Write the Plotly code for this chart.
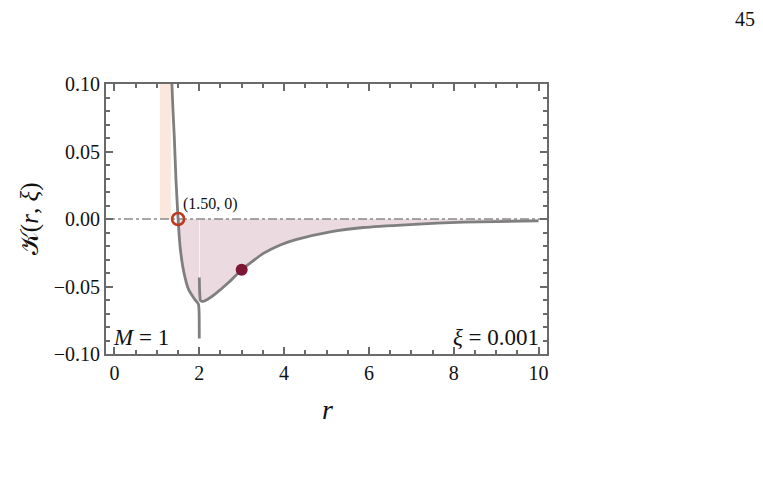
import plotly.graph_objects as go

# branch of K(r, xi) left of r = 2
left_r = [1.354, 1.38, 1.41, 1.45, 1.50, 1.55, 1.63, 1.745, 1.89, 1.98, 1.995, 2.0]
left_k = [0.100, 0.080, 0.061, 0.029, 0.0, -0.0213, -0.0385, -0.052, -0.0594, -0.0631, -0.068, -0.0885]

# branch right of r = 2
right_r = [2.0, 2.01, 2.03, 2.10, 2.2, 2.37, 2.69, 3.0, 3.51, 3.91, 4.30, 5.09, 5.87, 6.97, 8.23, 10.0]
right_k = [-0.0434, -0.055, -0.0605, -0.061, -0.0595, -0.0557, -0.0471, -0.0376, -0.0255, -0.0192, -0.0151,
           -0.0095, -0.0063, -0.0041, -0.0023, -0.0014]

# orange band
band_r = [1.07, 1.33]
band_k = [0.1, 0.1]

# marked points
root_r, root_k = [1.50], [0.0]
dot_r, dot_k = [3.0], [-0.0376]

serif = "Liberation Serif"
gray = "#7f7f7f"
frame = "#6a6a6a"
pink = "rgb(235,218,223)"
ink = "#111"

fig = go.Figure()

# orange band
fig.add_trace(go.Scatter(x=band_r, y=band_k, mode="lines", fill="tozeroy",
                         fillcolor="rgb(251,231,221)", line=dict(width=0)))

# pink fill under the curve, from the root onward
fl_r = [r for r in left_r if 1.5 <= r < 1.99]
fl_k = [k for r, k in zip(left_r, left_k) if 1.5 <= r < 1.99]
fig.add_trace(go.Scatter(x=fl_r + [1.995], y=fl_k + [-0.065], mode="lines", fill="tozeroy",
                         fillcolor=pink, line=dict(width=0, shape="spline", smoothing=0.6)))
fig.add_trace(go.Scatter(x=right_r[1:], y=right_k[1:], mode="lines", fill="tozeroy",
                         fillcolor=pink, line=dict(width=0, shape="spline", smoothing=0.6)))

# zero line
fig.add_trace(go.Scatter(x=[-0.2, 10.2], y=[0, 0], mode="lines",
                         line=dict(color="#8a8a8a", width=1.4, dash="dashdot")))

# curve
fig.add_trace(go.Scatter(x=left_r, y=left_k, mode="lines",
                         line=dict(color=gray, width=2.8, shape="spline", smoothing=0.5)))
fig.add_trace(go.Scatter(x=right_r, y=right_k, mode="lines",
                         line=dict(color=gray, width=2.8, shape="spline", smoothing=0.5)))

# markers
fig.add_trace(go.Scatter(x=root_r, y=root_k, mode="markers",
                         marker=dict(symbol="circle-open", size=12, color="rgb(190,58,30)",
                                     line=dict(width=2.6, color="rgb(190,58,30)"))))
fig.add_trace(go.Scatter(x=dot_r, y=dot_k, mode="markers",
                         marker=dict(size=12, color="rgb(125,22,52)")))

axis_common = dict(
    showline=True, linecolor=frame, linewidth=2, mirror="allticks",
    ticks="inside", ticklen=7, tickwidth=1.5, tickcolor=frame,
    showgrid=False, zeroline=False,
    tickfont=dict(family=serif, size=20, color=ink),
)
fig.update_xaxes(range=[-0.2, 10.2], tick0=0, dtick=2,
                 minor=dict(dtick=0.5, ticks="inside", ticklen=4, tickwidth=1.5, tickcolor=frame),
                 **axis_common)
fig.update_yaxes(range=[-0.1, 0.1], tick0=0, dtick=0.05, tickformat=".2f",
                 minor=dict(dtick=0.01, ticks="inside", ticklen=4, tickwidth=1.5, tickcolor=frame),
                 **axis_common)

fig.add_annotation(x=1.57, y=0.003, text="(1.50, 0)", showarrow=False, xanchor="left", yanchor="bottom",
                   font=dict(family=serif, size=16, color=ink))
fig.add_annotation(x=-0.08, y=-0.0875, text="<i>M</i> = 1", showarrow=False, xanchor="left",
                   yanchor="middle", font=dict(family=serif, size=23, color=ink))
fig.add_annotation(x=10.05, y=-0.0875, text="<i>ξ</i> = 0.001", showarrow=False, xanchor="right",
                   yanchor="middle", font=dict(family=serif, size=23, color=ink))

# axis titles and page number
fig.add_annotation(xref="paper", yref="paper", x=-0.172, y=0.5, text="𝒦(<i>r</i>, <i>ξ</i>)",
                   showarrow=False, textangle=-90, xanchor="center", yanchor="middle",
                   font=dict(family=serif, size=25, color=ink))
fig.add_annotation(x=5.02, xref="x", yref="paper", y=-0.207, text="<i>r</i>", showarrow=False,
                   xanchor="center", yanchor="middle", font=dict(family=serif, size=28, color=ink))
fig.add_annotation(xref="paper", yref="paper", x=1.449, y=1.24, text="45", showarrow=False,
                   xanchor="center", yanchor="middle", font=dict(family=serif, size=20, color=ink))

# the page sits 8px in from the window corner, so the margins allow for that
fig.update_layout(
    width=763, height=480, autosize=False,
    margin=dict(l=98, r=224, t=76, b=134),
    paper_bgcolor="white", plot_bgcolor="white",
    showlegend=False,
)

fig.write_html("out.html")
